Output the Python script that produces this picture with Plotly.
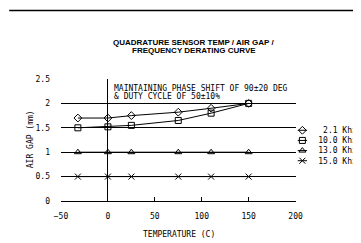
import plotly.graph_objects as go

# ---- data ----
temps = [-32, 0, 25, 75, 110, 150]
gap_2_1 = [1.7, 1.7, 1.75, 1.82, 1.9, 2.0]
gap_10_0 = [1.5, 1.52, 1.55, 1.65, 1.8, 2.0]
gap_13_0 = [1.0, 1.0, 1.0, 1.0, 1.0, 1.0]
gap_15_0 = [0.5, 0.5, 0.5, 0.5, 0.5, 0.5]
series_names = ["\u00a02.1 Khz", "10.0 Khz", "13.0 Khz", "15.0 Khz"]
x_ticks = [-50, 0, 50, 100, 150, 200]
y_ticks = [0, 0.5, 1, 1.5, 2, 2.5]
y_tick_text = ["0", "0.5", "1", "1.5", "2", "2.5"]

W, H = 361, 243
ML, MR, MT, MB = 53, 0, 71, 50
PW = W - ML - MR
PH = H - MT - MB

def px_x(p):
    return (p - ML) / PW

def px_y(p):
    return (H - MB - p) / PH

MONO = "DejaVu Sans Mono"
symbols = ["diamond-open", "square-open", "triangle-up-open", "x-thin"]
series = [gap_2_1, gap_10_0, gap_13_0, gap_15_0]

fig = go.Figure()
for name, ys, sym in zip(series_names, series, symbols):
    fig.add_trace(go.Scatter(
        x=temps, y=ys, mode="lines+markers", name=name, showlegend=False,
        line=dict(color="black", width=1),
        marker=dict(symbol=sym, size=6, color="black",
                    line=dict(color="black", width=1)),
        xaxis="x", yaxis="y"))

# legend keys on a small overlay axis
for name, sym in zip(series_names, symbols):
    fig.add_trace(go.Scatter(
        x=[-1, 1], y=[name, name], mode="lines", showlegend=False,
        line=dict(color="black", width=1), xaxis="x2", yaxis="y2"))
    fig.add_trace(go.Scatter(
        x=[0], y=[name], mode="markers", showlegend=False,
        marker=dict(symbol=sym, size=6, color="black",
                    line=dict(color="black", width=1)),
        xaxis="x2", yaxis="y2"))

TITLE_FONT = dict(family="Liberation Sans", size=8)

fig.update_layout(
    width=W, height=H,
    margin=dict(l=ML, r=MR, t=MT, b=MB, pad=0),
    paper_bgcolor="white", plot_bgcolor="white",
    font=dict(family=MONO, size=8, color="black"),
    xaxis=dict(domain=[0, 240 / PW], range=[-50, 200], tickvals=x_ticks,
               showgrid=False, zeroline=True, zerolinecolor="black",
               zerolinewidth=1, ticks="inside", ticklen=4, tickwidth=1,
               tickcolor="black", showline=False, ticklabelstandoff=9,
               tickfont=dict(family=MONO, size=8)),
    yaxis=dict(range=[0, 2.5], tickvals=y_ticks, ticktext=y_tick_text,
               showgrid=True, gridcolor="black", gridwidth=1,
               zeroline=True, zerolinecolor="black", zerolinewidth=1,
               ticks="", showline=False, ticklabelstandoff=10,
               tickfont=dict(family=MONO, size=8)),
    xaxis2=dict(domain=[px_x(295), px_x(305)], range=[-1, 1], anchor="y2",
                visible=False),
    yaxis2=dict(domain=[px_y(157.8), px_y(117.2)], anchor="x2", side="right",
                type="category", categoryorder="array",
                categoryarray=series_names, range=[3.5, -0.5],
                showgrid=False, zeroline=False, showline=False, ticks="",
                ticklabelstandoff=10, tickfont=dict(family=MONO, size=8)),
    shapes=[dict(type="line", xref="paper", yref="paper",
                 x0=px_x(0), x1=px_x(W), y0=px_y(2.5), y1=px_y(2.5),
                 line=dict(color="black", width=1.5))],
    annotations=[
        dict(text="<b>QUADRATURE SENSOR TEMP / AIR GAP /</b>", xref="paper",
             yref="paper", x=px_x(189), y=px_y(34), showarrow=False,
             xanchor="center", yanchor="middle", font=TITLE_FONT),
        dict(text="<b>FREQUENCY DERATING CURVE</b>", xref="paper",
             yref="paper", x=px_x(189), y=px_y(42.5), showarrow=False,
             xanchor="center", yanchor="middle", font=TITLE_FONT),
        dict(text="MAINTAINING PHASE SHIFT OF 90±20 DEG", xref="paper",
             yref="paper", x=px_x(105), y=px_y(80.5), showarrow=False,
             xanchor="left", yanchor="middle", font=dict(family=MONO, size=8)),
        dict(text="& DUTY CYCLE OF 50±10%", xref="paper",
             yref="paper", x=px_x(105), y=px_y(88.5), showarrow=False,
             xanchor="left", yanchor="middle", font=dict(family=MONO, size=8)),
        dict(text="AIR GAP (mm)", xref="paper", yref="paper",
             x=px_x(22), y=px_y(131.5), showarrow=False, textangle=-90,
             xanchor="center", yanchor="middle", font=dict(family=MONO, size=8)),
        dict(text="TEMPERATURE (C)", xref="paper", yref="paper",
             x=px_x(174), y=px_y(226), showarrow=False,
             xanchor="center", yanchor="middle", font=dict(family=MONO, size=8)),
    ],
)

fig.write_html("out.html")
